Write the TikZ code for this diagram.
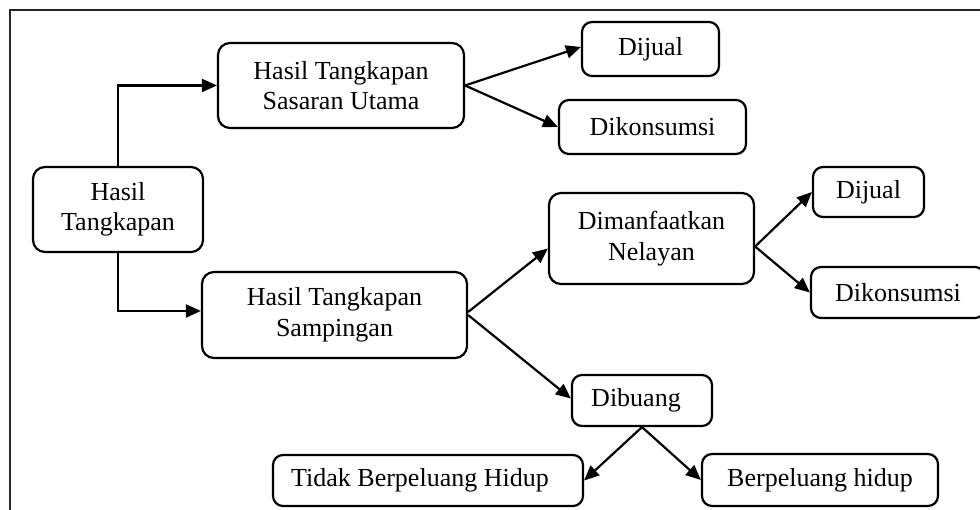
\documentclass[tikz,border=0pt]{standalone}
\usepackage{fontspec}
\setmainfont{Liberation Serif}
\usetikzlibrary{arrows.meta}
\begin{document}
\begin{tikzpicture}[x=1pt,y=-1pt,
  box/.style={draw=black, line width=2.2pt, rounded corners=12pt, inner sep=0pt, align=center,
    font=\fontsize{26}{30.5}\selectfont},
  sbox/.style={box, rounded corners=10pt},
  arr/.style={line width=2.2pt, -{Triangle[length=15pt,width=13pt]}},
  frameline/.style={line width=1.8pt, draw=black!85}
]
\clip (0,0) rectangle (980,510);
\fill[white] (0,0) rectangle (980,510);
\coordinate (f1) at (10,10);
\coordinate (f2) at (990,10);
\coordinate (f3) at (10,520);
\draw[frameline] (f2) -- (f1) -- (f3);

\node[box, minimum width=170pt, minimum height=85pt] (HT) at (118,209.5) {Hasil\\Tangkapan};
\node[box, minimum width=246pt, minimum height=85pt] (HTSU) at (341,85.5) {Hasil Tangkapan\\Sasaran Utama};
\node[sbox, minimum width=137pt, minimum height=54pt] (DJ1) at (650.5,49) {Dijual};
\node[sbox, minimum width=187pt, minimum height=54pt] (DK1) at (652.5,127) {Dikonsumsi};
\node[box, minimum width=265pt, minimum height=86pt] (HTS) at (334.5,315) {Hasil Tangkapan\\Sampingan};
\node[box, minimum width=205pt, minimum height=91pt] (DN) at (651.5,238.5) {Dimanfaatkan\\Nelayan};
\node[sbox, minimum width=111pt, minimum height=50pt] (DJ2) at (868.5,192) {Dijual};
\node[sbox, minimum width=174pt, minimum height=51pt] (DK2) at (898,292.5) {Dikonsumsi};
\node[sbox, minimum width=140pt, minimum height=51pt] (DB) at (642,400.5) {Dibuang\hspace*{12pt}};
\node[sbox, minimum width=310pt, minimum height=51pt] (TBH) at (428,480.5) {Tidak Berpeluang Hidup\hspace*{16pt}};
\node[sbox, minimum width=236pt, minimum height=52pt] (BH) at (820,480) {Berpeluang hidup};

\draw[arr] (HT.north) |- (HTSU.west);
\draw[arr] (HT.south) |- ([yshift=4pt]HTS.west);
\draw[arr] (HTSU.east) -- ([yshift=2pt]DJ1.west);
\draw[arr] (HTSU.east) -- (DK1.west);
\draw[arr] ([yshift=3pt]HTS.east) -- ([yshift=-10pt]DN.west);
\draw[arr] (HTS.east) -- ([yshift=2pt]DB.west);
\draw[arr] ([yshift=-8pt]DN.east) -- (DJ2.west);
\draw[arr] ([yshift=-8pt]DN.east) -- (DK2.west);
\draw[arr] (DB.south) -- (TBH.east);
\draw[arr] (DB.south) -- (BH.west);
\end{tikzpicture}
\end{document}
